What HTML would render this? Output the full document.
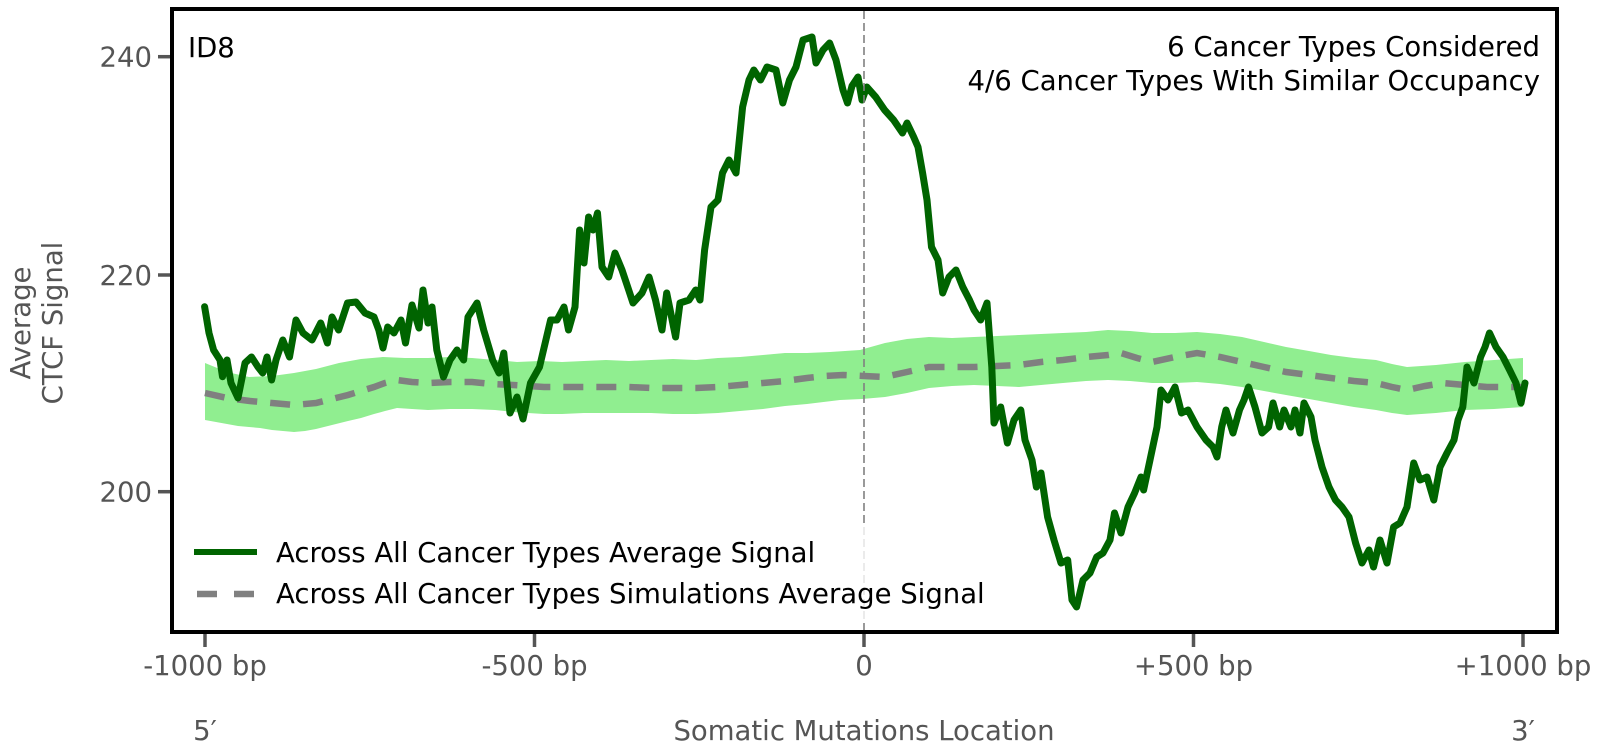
<!DOCTYPE html>
<html>
<head>
<meta charset="utf-8">
<style>
html,body{margin:0;padding:0;background:#fff;}
svg{display:block;}
text{font-family:"DejaVu Sans","Liberation Sans",sans-serif;}
</style>
</head>
<body>
<svg width="1603" height="756" viewBox="0 0 1603 756" xmlns="http://www.w3.org/2000/svg">
<defs>
<clipPath id="pa"><rect x="172" y="9" width="1385" height="623"/></clipPath>
</defs>
<rect x="0" y="0" width="1603" height="756" fill="#fff"/>
<g clip-path="url(#pa)">
<!-- simulation band -->
<polygon fill="#90EE90" points="205,363 227,372 249,377 272,376 294,373 316,369 339,363 361,359 383,357 405,358 428,358 450,357 472,358 495,360 517,362 540,361 562,362 584,361 606,360 629,361 651,360 673,359 696,360 718,358 740,357 763,355 785,353 807,353 830,352 860,350 885,343 907,339 929,337 952,338 974,337 997,336 1019,335 1041,334 1063,333 1086,332 1108,330 1130,331 1152,333 1175,333 1197,332 1220,334 1242,337 1264,342 1286,347 1309,351 1331,355 1354,358 1376,360 1392,364 1407,367 1436,365 1465,362 1494,360 1523,358 1523,407 1494,409 1465,410 1436,413 1407,415 1392,413 1376,410 1354,407 1331,403 1309,399 1286,395 1264,391 1242,387 1220,384 1197,382 1175,383 1152,383 1130,381 1108,380 1086,381 1063,383 1041,385 1019,387 997,386 974,385 952,386 929,388 907,393 885,397 862,399 840,400 807,404 785,406 763,409 740,411 718,413 696,414 673,414 651,413 629,413 606,413 584,413 562,414 544,414 528,413 513,412 495,410 472,409 450,409 428,410 412,409 397,408 385,411 374,414 361,418 348,421 332,425 316,429 305,431 294,432 283,431 272,430 260,428 249,427 238,426 227,424 216,422 205,420"/>
<!-- simulation average dashed -->
<polyline fill="none" stroke="#808080" stroke-width="6.5" stroke-dasharray="20,13" points="205,393 227,398 250,401 272,403 294,405 316,403 332,399 348,395 361,391 374,387 385,383 397,380 412,382 428,383 450,382 472,382 492,384 513,385 528,386 544,387 564,387 584,387 606,387 629,387 651,388 673,388 696,388 718,387 740,385 763,383 785,381 807,378 825,376 843,375 864,376 884,377 907,372 929,367 952,367 974,367 997,366 1019,365 1041,362 1063,360 1086,357 1108,355 1121,353 1137,358 1152,362 1175,357 1197,353 1220,357 1242,362 1264,367 1286,372 1309,375 1331,378 1354,381 1376,383 1392,387 1407,390 1425,386 1443,383 1465,385 1487,387 1505,387 1523,387"/>
<!-- all cancer types average signal -->
<polyline fill="none" stroke="#006400" stroke-width="7" stroke-linejoin="round" stroke-linecap="round" points="204.6,306.7 209,333 213.6,350 220,360 222.5,376.7 227,360 231,383 238,398 245,363 251.5,357 258,367 262.7,373 267,357 271.6,380 276,360 282.8,340 289.5,357 296,320 303,333 312,340 320.7,323 327.4,343 332,317 338.6,330 347.5,303 356,302 365,313 374,317 378.8,330 383,348 387.7,327 394,333 401,320 405.5,343 412,305 419,328 423,290 428,323 432,307 436.8,350 443.5,377 450,360 457,350 463.6,360 468,317 477,303 483.7,330 492.6,360 499,373 503.8,353 510,413 517,397 523,419 530.5,383 539.5,367 550.6,320 557,320 564,307 568.5,330 575,307 579.6,230 584,263 588.6,217 593,230 597.5,213 602,267 608.7,277 615,253 622,270 628.7,290 633,303 642,293 649,277 655.5,300 662,330 666.7,293 675.6,337 680,303 689,300 695.7,290 700,300 704.6,250 711,207 718,200 722.5,173 729,160 736,173 742.6,107 749,80 753.8,70 760.5,80 767,67 776,70 782.8,103 789.5,80 796,67 803,40 812,37 816,63 823,50 829.6,43 836,60 843,90 847.5,103 852,86 858,77 862,100 866.8,87 875.7,97 884.6,110 893.6,120 902.5,133 907,123 913.7,137 918,147 922.6,173 927,200 931.5,247 938,260 942.7,293 949,277 956,270 962.8,287 969.5,300 974,310 980.6,320 987,303 991.8,367 994,423 1000.7,407 1007.4,443 1014,420 1020.8,410 1025,440 1032,460 1036.4,487 1041,473 1047.6,517 1054,540 1061,563 1067.7,560 1072,600 1076.6,607 1083,580 1090,573 1096.7,557 1103,553 1110,540 1114.5,513 1121,533 1128,507 1134.6,493 1141,477 1143.6,490 1150,460 1157,427 1161,390 1168,400 1175,387 1181.5,413 1188,410 1197,427 1206,440 1213,447 1217,457 1221.7,427 1226,410 1233,433 1239.5,410 1244,400 1248.5,387 1255,407 1262,433 1268.6,427 1273,403 1279.7,427 1284,410 1291,427 1295,410 1300,433 1304,403 1311,417 1315,440 1322,467 1329,487 1335.5,500 1342,507 1349,517 1355.6,543 1362,563 1369,550 1373.5,567 1380,540 1387,563 1393.6,527 1400,523 1407,507 1413.7,463 1420,480 1427,477 1433.8,500 1440,467 1447,453 1454,440 1458,420 1462.8,407 1467,367 1474,383 1480.6,357 1485,347 1489.5,333 1496,347 1503,357 1509.6,370 1516,383 1521,403 1525,383"/>
<!-- zero line -->
<line x1="864" y1="11" x2="864" y2="630" stroke="#808080" stroke-width="1.6" stroke-dasharray="8,4"/>
<!-- legend background -->
<rect x="186" y="527" width="812" height="92" rx="6" fill="#fff" fill-opacity="0.8"/>
</g>
<!-- legend -->
<line x1="194" y1="552" x2="257" y2="552" stroke="#006400" stroke-width="6"/>
<line x1="197" y1="594" x2="257" y2="594" stroke="#808080" stroke-width="6.5" stroke-dasharray="20,17"/>
<text x="276" y="562" font-size="27.5" fill="#000">Across All Cancer Types Average Signal</text>
<text x="276" y="603" font-size="27.5" fill="#000">Across All Cancer Types Simulations Average Signal</text>
<!-- annotations -->
<text x="188" y="57" font-size="27.5" fill="#000">ID8</text>
<text x="1540" y="56" font-size="27.5" fill="#000" text-anchor="end">6 Cancer Types Considered</text>
<text x="1540" y="90" font-size="27.5" fill="#000" text-anchor="end">4/6 Cancer Types With Similar Occupancy</text>
<!-- frame -->
<rect x="172" y="9" width="1385" height="623" fill="none" stroke="#000" stroke-width="4"/>
<!-- y ticks -->
<g stroke="#555" stroke-width="3.5">
<line x1="158" y1="56.7" x2="170" y2="56.7"/>
<line x1="158" y1="275" x2="170" y2="275"/>
<line x1="158" y1="491.7" x2="170" y2="491.7"/>
</g>
<g font-size="27.5" fill="#555" text-anchor="end">
<text x="152" y="66.7">240</text>
<text x="152" y="285">220</text>
<text x="152" y="501.7">200</text>
</g>
<!-- x ticks -->
<g stroke="#555" stroke-width="3.5">
<line x1="205" y1="634" x2="205" y2="647"/>
<line x1="534.5" y1="634" x2="534.5" y2="647"/>
<line x1="864" y1="634" x2="864" y2="647"/>
<line x1="1193.5" y1="634" x2="1193.5" y2="647"/>
<line x1="1523" y1="634" x2="1523" y2="647"/>
</g>
<g font-size="27.5" fill="#555" text-anchor="middle">
<text x="205" y="675">-1000 bp</text>
<text x="534.5" y="675">-500 bp</text>
<text x="864" y="675">0</text>
<text x="1193.5" y="675">+500 bp</text>
<text x="1523" y="675">+1000 bp</text>
<text x="205" y="740">5′</text>
<text x="864" y="740">Somatic Mutations Location</text>
<text x="1523" y="740">3′</text>
</g>
<!-- y label -->
<g font-size="27.5" fill="#555" text-anchor="middle">
<text transform="translate(30,323) rotate(-90)">Average</text>
<text transform="translate(62,323) rotate(-90)">CTCF Signal</text>
</g>
</svg>
</body>
</html>
